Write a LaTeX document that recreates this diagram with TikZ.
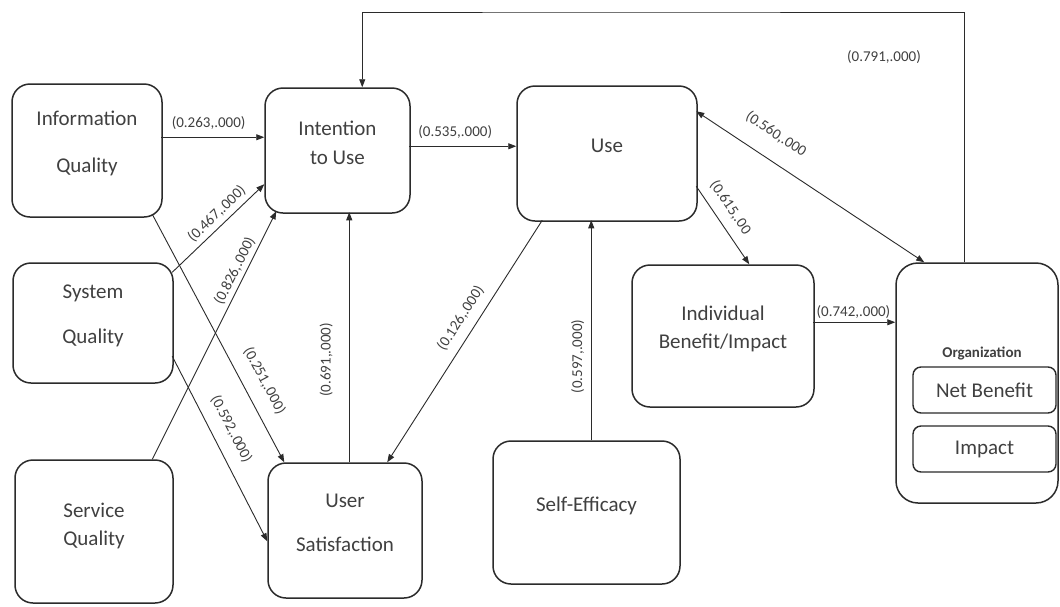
\documentclass[tikz,border=0pt]{standalone}
\usepackage{fontspec}
\setmainfont{Carlito}
\usetikzlibrary{arrows.meta}
\definecolor{ink}{HTML}{2B2B2B}
\definecolor{txtc}{HTML}{404040}
\begin{document}
\begin{tikzpicture}[x=1pt,y=-1pt,
  box/.style={draw=ink,line width=1.5pt,rounded corners=18pt,inner sep=0pt},
  subbox/.style={draw=ink,line width=1.4pt,rounded corners=8pt,inner sep=0pt,
    minimum width=143pt,minimum height=46pt,text=txtc,font=\fontsize{21}{26}\selectfont},
  txt/.style={align=center,text=txtc,font=\fontsize{21}{26}\selectfont,inner sep=0pt},
  lbl/.style={text=txtc,font=\fontsize{15}{18}\selectfont,inner sep=0pt},
  arr/.style={draw=ink,line width=0.9pt,-{Triangle[length=8pt,width=6pt]}},
  arrboth/.style={draw=ink,line width=0.9pt,{Triangle[length=8pt,width=6pt]}-{Triangle[length=8pt,width=6pt]}},
]
\fill[white] (0,0) rectangle (1060,606);
\useasboundingbox (0,0) rectangle (1060,606);

% construct boxes
\node[box,minimum width=150pt,minimum height=133pt] (iq)   at (87,150.5)   {};
\node[box,minimum width=145pt,minimum height=125pt] (itu)  at (337.5,150.5) {};
\node[box,minimum width=180pt,minimum height=135pt] (use)  at (607,153.5)  {};
\node[box,minimum width=160pt,minimum height=120pt] (sysq) at (93,323)     {};
\node[box,minimum width=158pt,minimum height=143pt] (servq) at (94,531.5)  {};
\node[box,minimum width=154pt,minimum height=135pt] (us)   at (345,530.5)  {};
\node[box,minimum width=187pt,minimum height=143pt] (se)   at (586.5,512.5) {};
\node[box,minimum width=182pt,minimum height=142pt] (ibi)  at (723,336)    {};
\node[box,rounded corners=22pt,minimum width=162pt,minimum height=240pt] (org) at (977,383) {};

% box captions
\node[txt] (iq-t)    at ([yshift=7.5pt]iq.center)    {Information\\[21pt]Quality};
\node[txt] (itu-t)   at ([yshift=7.5pt]itu.center)   {Intention\\[3pt]to Use};
\node[txt] (use-t)   at ([yshift=8pt]use.center)     {Use};
\node[txt] (sysq-t)  at ([yshift=7.5pt]sysq.center)  {System\\[19pt]Quality};
\node[txt] (servq-t) at ([yshift=6pt]servq.center)   {Service\\[2pt]Quality};
\node[txt] (us-t)    at ([yshift=8pt]us.center)      {User\\[18pt]Satisfaction};
\node[txt] (se-t)    at ([yshift=6.5pt]se.center)    {Self-Efficacy};
\node[txt] (ibi-t)   at ([yshift=7pt]ibi.center)     {Individual\\[2pt]Benefit/Impact};
\node[lbl,font=\fontsize{15}{18}\selectfont\bfseries] (org-t) at (982,353) {Organization};
\node[subbox] (nb)  at (984.5,390) {Net Benefit};
\node[subbox] (imp) at (984.5,449) {Impact};

% paths between constructs
\draw[arr] ([shift={(150,54)}]iq.north west) -- ([shift={(0,50)}]itu.north west)
  node[lbl,pos=0.46,above=7pt] (l1) {(0.263,.000)};
\draw[arr] ([shift={(145,59)}]itu.north west) -- ([shift={(0,61)}]use.north west)
  node[lbl,pos=0.43,above=7pt] (l2) {(0.535,.000)};
\draw[arr] ([shift={(160,10)}]sysq.north west) -- ([shift={(0,97)}]itu.north west)
  node[lbl,sloped,pos=0.57,above=4.5pt] (l3) {(0.467,.000)};
\draw[arr] ([shift={(138,0)}]servq.north west) -- ([shift={(12,124)}]itu.north west)
  node[lbl,sloped,pos=0.74,above=3.5pt] (l4) {(0.826,.000)};
\draw[arr] ([shift={(141,131)}]iq.north west) -- ([shift={(17,0)}]us.north west)
  node[lbl,sloped,pos=0.71,above=14pt] (l5) {(0.251,.000)};
\draw[arr] ([shift={(160,94)}]sysq.north west) -- ([shift={(0,79)}]us.north west)
  node[lbl,sloped,pos=0.44,above=12.5pt] (l6) {(0.592,.000)};
\draw[arr] ([shift={(82,0)}]us.north west) -- ([shift={(85,125)}]itu.north west)
  node[lbl,sloped,pos=0.41,above=16pt] (l7) {(0.691,.000)};
\draw[arr] ([shift={(26,135)}]use.north west) -- ([shift={(120,0)}]us.north west)
  node[lbl,sloped,pos=0.44,above=9pt] (l8) {(0.126,.000)};
\draw[arr] ([shift={(99,0)}]se.north west) -- ([shift={(75,135)}]use.north west)
  node[lbl,sloped,pos=0.38,above=6.5pt] (l9) {(0.597,.000)};
\draw[arr] ([shift={(180,101)}]use.north west) -- ([shift={(118,0)}]ibi.north west)
  node[lbl,sloped,pos=0.39,above=9.5pt] (l10) {(0.615,.00};
\draw[arrboth] ([shift={(180,26)}]use.north west) -- ([shift={(29,0)}]org.north west)
  node[lbl,sloped,pos=0.29,above=18pt] (l11) {(0.560,.000};
\draw[arr] ([shift={(182,58)}]ibi.north west) -- ([shift={(0,60)}]org.north west)
  node[lbl,pos=0.49,above=3pt] (l12) {(0.742,.000)};

% feedback loop along the top
\coordinate (fb) at (600,12);
\draw[arr] ([shift={(69,0)}]org.north west) |- (fb)
  node[lbl,pos=0.41,left=43pt] (l13) {(0.791,.000)}
  -| ([shift={(98,0)}]itu.north west);
\end{tikzpicture}
\end{document}
